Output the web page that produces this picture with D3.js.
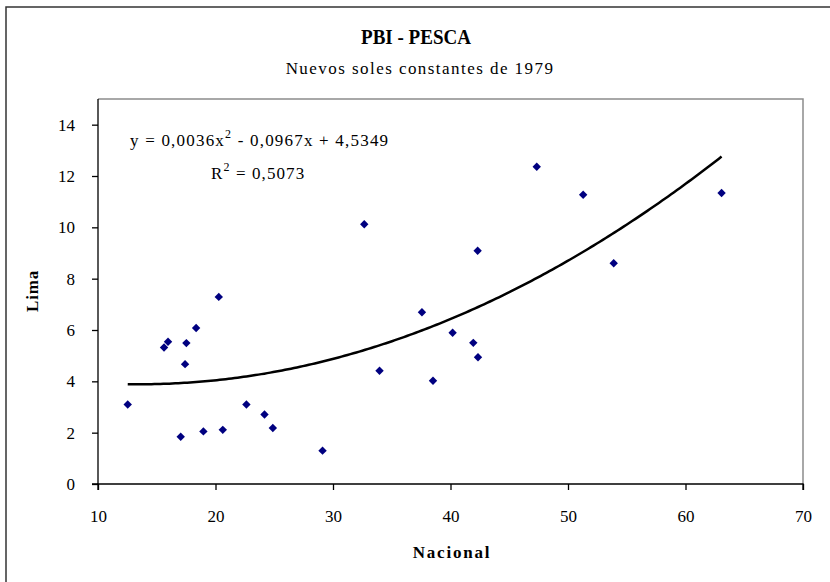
<!DOCTYPE html>
<html>
<head>
<meta charset="utf-8">
<script src="https://cdn.jsdelivr.net/npm/d3@7"></script>
<style>
  html, body { margin: 0; padding: 0; background: #fff; }
  svg { display: block; }
  text { font-family: "Liberation Serif", "Times New Roman", serif; fill: #000; }
</style>
</head>
<body>
<svg id="chart" width="830" height="582"></svg>
<script>
// ---- data ----
const nacional = [12.53, 15.62, 15.96, 17.04, 17.41, 17.52, 18.35, 18.97, 20.28, 20.62, 22.63, 24.17, 24.88, 29.11,
                  32.66, 33.96, 37.57, 38.51, 40.18, 41.94, 42.34, 42.31, 47.34, 51.29, 53.89, 63.07];
const lima     = [3.10, 5.32, 5.54, 1.84, 4.67, 5.49, 6.08, 2.05, 7.29, 2.11, 3.10, 2.71, 2.18, 1.30,
                  10.12, 4.41, 6.69, 4.02, 5.89, 5.50, 4.94, 9.09, 12.36, 11.27, 8.60, 11.34];
const trendCoef = [0.0036, -0.0967, 4.5349]; // y = a x^2 + b x + c (from chart label)
const xTicks = [10, 20, 30, 40, 50, 60, 70];
const yTicks = [0, 2, 4, 6, 8, 10, 12, 14];
const titleText = "PBI - PESCA";
const subtitleText = "Nuevos soles constantes de 1979";
const xTitle = "Nacional";
const yTitle = "Lima";

// ---- layout ----
const svg = d3.select("#chart");
const plot = { left: 98, right: 803, top: 99, bottom: 484 };

// outer frame
svg.append("rect")
  .attr("x", 6).attr("y", 7).attr("width", 840).attr("height", 600)
  .attr("fill", "none").attr("stroke", "#333").attr("stroke-width", 1.5);

const x = d3.scaleLinear().domain([10, 70]).range([plot.left, plot.right]);
const y = d3.scaleLinear().domain([0, 15]).range([plot.bottom, plot.top]);

// plot area border (top & right grey)
svg.append("path")
  .attr("d", `M${plot.left},${plot.top}H${plot.right}V${plot.bottom}`)
  .attr("fill", "none").attr("stroke", "#8c8c8c").attr("stroke-width", 1.5);

// axes
const xAxis = svg.append("g")
  .attr("transform", `translate(0,${plot.bottom})`)
  .call(d3.axisBottom(x).tickValues(xTicks).tickSize(6).tickPadding(20).tickFormat(d3.format("d")));
const yAxis = svg.append("g")
  .attr("transform", `translate(${plot.left},0)`)
  .call(d3.axisLeft(y).tickValues(yTicks).tickSize(6).tickPadding(17).tickFormat(d3.format("d")));
[xAxis, yAxis].forEach(a => {
  a.select(".domain").attr("stroke", "#000").attr("stroke-width", 1.3);
  a.selectAll(".tick line").attr("stroke", "#000").attr("stroke-width", 1.3);
  a.selectAll(".tick text").attr("font-family", "Liberation Serif").attr("font-size", 17).attr("fill", "#000");
});
yAxis.select(".domain").attr("d", `M-6,${plot.bottom}H0V${plot.top}`);
xAxis.select(".domain").attr("d", `M${plot.left},6V0H${plot.right}V6`);

// trendline
const xs = d3.extent(nacional);
const trendX = d3.range(xs[0], xs[1] + 0.001, (xs[1] - xs[0]) / 200);
const trendFn = v => trendCoef[0] * v * v + trendCoef[1] * v + trendCoef[2];
svg.append("path")
  .datum(trendX)
  .attr("d", d3.line().x(d => x(d)).y(d => y(trendFn(d))))
  .attr("fill", "none").attr("stroke", "#000").attr("stroke-width", 2.5);

// points
const pts = nacional.map((v, i) => ({ x: v, y: lima[i] }));
svg.append("g").selectAll("path")
  .data(pts).enter().append("path")
  .attr("transform", d => `translate(${x(d.x)},${y(d.y)})`)
  .attr("d", "M0,-4.2L4.2,0L0,4.2L-4.2,0Z")
  .attr("fill", "#000080");

// titles
svg.append("text")
  .attr("x", 416).attr("y", 44).attr("text-anchor", "middle")
  .attr("font-size", 21).attr("font-weight", "bold")
  .attr("textLength", 110).attr("lengthAdjust", "spacingAndGlyphs")
  .text(titleText);
svg.append("text")
  .attr("x", 420).attr("y", 74).attr("text-anchor", "middle")
  .attr("font-size", 17).attr("letter-spacing", 1.45)
  .text(subtitleText);
svg.append("text")
  .attr("x", 452).attr("y", 558).attr("text-anchor", "middle")
  .attr("font-size", 17).attr("font-weight", "bold").attr("letter-spacing", 1.8)
  .text(xTitle);
svg.append("text")
  .attr("transform", "translate(38,291) rotate(-90)")
  .attr("text-anchor", "middle")
  .attr("font-size", 17).attr("font-weight", "bold").attr("letter-spacing", 0.8)
  .text(yTitle);

// equation labels
const fmt = v => d3.format(".4f")(v).replace(".", ",");
const eq = svg.append("text").attr("x", 130).attr("y", 146).attr("font-size", 17).attr("letter-spacing", 1.2);
eq.append("tspan").text(`y = ${fmt(trendCoef[0])}x`);
eq.append("tspan").attr("dy", -8).attr("font-size", 12).text("2");
eq.append("tspan").attr("dy", 8).text(` - ${fmt(-trendCoef[1])}x + ${fmt(trendCoef[2])}`);
const r2 = svg.append("text").attr("x", 211).attr("y", 179).attr("font-size", 17).attr("letter-spacing", 1.1);
r2.append("tspan").text("R");
r2.append("tspan").attr("dy", -8).attr("font-size", 12).text("2");
r2.append("tspan").attr("dy", 8).text(" = 0,5073");
</script>
</body>
</html>
